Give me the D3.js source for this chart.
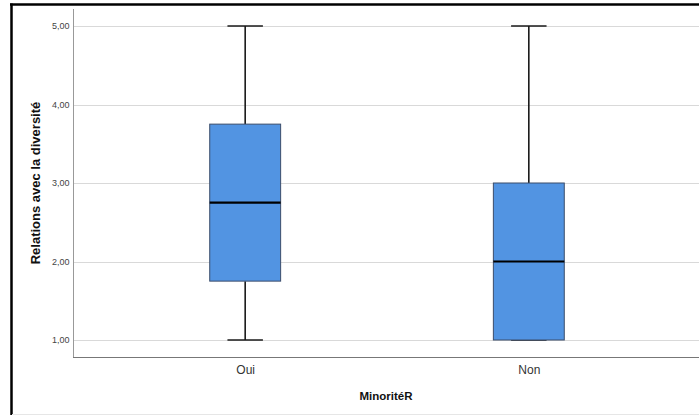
<!DOCTYPE html>
<html><head><meta charset="utf-8">
<script src="https://cdn.jsdelivr.net/npm/d3@7/dist/d3.min.js"></script>
<style>html,body{margin:0;padding:0;background:#fff;}svg{display:block;font-family:"Liberation Sans",Arial,sans-serif;}</style>
</head><body>
<script>
const categories = ["Oui", "Non"];
const mins = [1, 1];
const q1s = [1.75, 1];
const medians = [2.75, 2];
const q3s = [3.75, 3];
const maxs = [5, 5];
const yTicks = [1, 2, 3, 4, 5];
const yLabel = "Relations avec la diversité";
const xLabel = "MinoritéR";

const W = 699, H = 415;
const svg = d3.select("body").append("svg").attr("width", W).attr("height", H);

// frame
svg.append("line").attr("x1", 10).attr("x2", W).attr("y1", 4.5).attr("y2", 4.5).attr("stroke", "#000").attr("stroke-width", 2.5);
svg.append("line").attr("x1", 11.5).attr("x2", 11.5).attr("y1", 3.5).attr("y2", H).attr("stroke", "#000").attr("stroke-width", 2.5);
svg.append("line").attr("x1", 12).attr("x2", W).attr("y1", 414.5).attr("y2", 414.5).attr("stroke", "#e6e6e6").attr("stroke-width", 1);

const left = 73, right = 699, axisBottom = 357;
const y = d3.scaleLinear().domain([1, 5]).range([340, 26]);
const x = d3.scalePoint().domain(categories).range([75, 699]).padding(0.6);
const step = x.step();
const boxW = step * 0.25;
const capW = boxW / 2;

// gridlines
svg.append("g").selectAll("line").data(yTicks).join("line")
  .attr("x1", left).attr("x2", right)
  .attr("y1", d => Math.round(y(d)) + 0.5).attr("y2", d => Math.round(y(d)) + 0.5)
  .attr("stroke", "#d9d9d9").attr("stroke-width", 1);

// y axis
const yAxis = svg.append("g").attr("transform", `translate(${left + 0.5},0)`)
  .call(d3.axisLeft(y).tickValues(yTicks).tickSize(0).tickPadding(4).tickFormat(d => d3.format(".2f")(d).replace(".", ",")));
yAxis.select(".domain").remove();
yAxis.selectAll("text").attr("font-size", 9).attr("fill", "#444").attr("font-family", "Liberation Sans, Arial, sans-serif");
svg.append("line").attr("x1", left + 0.5).attr("x2", left + 0.5).attr("y1", 9).attr("y2", axisBottom).attr("stroke", "#999").attr("stroke-width", 1);

// x axis
const xAxis = svg.append("g").attr("transform", `translate(0,${axisBottom + 0.5})`)
  .call(d3.axisBottom(x).tickSize(0).tickPadding(8));
xAxis.select(".domain").remove();
xAxis.selectAll("text").attr("font-size", 12).attr("fill", "#333").attr("font-family", "Liberation Sans, Arial, sans-serif");
svg.append("line").attr("x1", left).attr("x2", right).attr("y1", axisBottom + 0.5).attr("y2", axisBottom + 0.5).attr("stroke", "#777").attr("stroke-width", 1);

// boxes
const data = categories.map((c, i) => ({c, min: mins[i], q1: q1s[i], med: medians[i], q3: q3s[i], max: maxs[i]}));
const g = svg.append("g").selectAll("g").data(data).join("g");
// whiskers
g.append("line").attr("x1", d => x(d.c)).attr("x2", d => x(d.c)).attr("y1", d => y(d.max)).attr("y2", d => y(d.q3)).attr("stroke", "#1a1a1a").attr("stroke-width", 1.6);
g.append("line").attr("x1", d => x(d.c)).attr("x2", d => x(d.c)).attr("y1", d => y(d.q1)).attr("y2", d => y(d.min)).attr("stroke", "#1a1a1a").attr("stroke-width", 1.6);
g.append("line").attr("x1", d => x(d.c) - capW / 2).attr("x2", d => x(d.c) + capW / 2).attr("y1", d => y(d.max)).attr("y2", d => y(d.max)).attr("stroke", "#1a1a1a").attr("stroke-width", 1.6);
g.append("line").attr("x1", d => x(d.c) - capW / 2).attr("x2", d => x(d.c) + capW / 2).attr("y1", d => y(d.min)).attr("y2", d => y(d.min)).attr("stroke", "#1a1a1a").attr("stroke-width", 1.6);
g.append("rect").attr("x", d => x(d.c) - boxW / 2).attr("width", boxW)
  .attr("y", d => y(d.q3)).attr("height", d => y(d.q1) - y(d.q3))
  .attr("fill", "#5294e2").attr("stroke", "#3b4d6b").attr("stroke-width", 1);
g.append("line").attr("x1", d => x(d.c) - boxW / 2).attr("x2", d => x(d.c) + boxW / 2).attr("y1", d => y(d.med)).attr("y2", d => y(d.med)).attr("stroke", "#000").attr("stroke-width", 2.2);

// labels
svg.append("text").attr("x", (left + right) / 2).attr("y", 400).attr("text-anchor", "middle")
  .attr("font-size", 11.5).attr("font-weight", "bold").attr("fill", "#111").text(xLabel);
svg.append("text").attr("transform", `translate(39.5,${y(3)}) rotate(-90)`).attr("text-anchor", "middle")
  .attr("font-size", 13).attr("font-weight", "bold").attr("fill", "#111").text(yLabel);
</script>
</body></html>
